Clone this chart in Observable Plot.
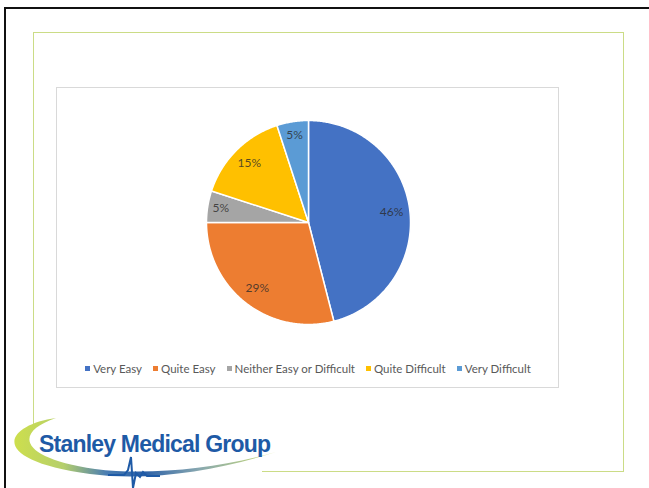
<!DOCTYPE html>
<html>
<head>
<meta charset="utf-8">
<script src="https://cdn.jsdelivr.net/npm/d3@7"></script>
<script src="https://cdn.jsdelivr.net/npm/@observablehq/plot@0.6"></script>
<style>
  html, body { margin: 0; padding: 0; background: #fff; }
  body { width: 649px; height: 488px; position: relative; overflow: hidden; font-family: Lato, "Open Sans", sans-serif; }
  .abs { position: absolute; }
  #blackTop { left: 4px; top: 7px; width: 645px; height: 2px; background: #111; }
  #blackLeft { left: 4px; top: 7px; width: 2px; height: 481px; background: #111; }
  #frame { left: 33px; top: 32px; border: 1.5px solid #cbdc86; box-sizing: border-box; width: 591px; height: 440px; }
  #chartBox { left: 56px; top: 87px; width: 503px; height: 301px; border: 1px solid #d9d9d9; box-sizing: border-box; background: #fff; }
  #pie { left: 56px; top: 87px; }
  #legend { left: 62px; top: 359px; width: 503px; }
  .lg-swatches { justify-content: center !important; margin: 0 !important; min-height: 18px !important; font-family: Lato, sans-serif !important; font-size: 11.5px !important; color: #595959 !important; }
  .lg-swatch { margin-right: 11px !important; }
  .lg-swatch > svg { margin-right: 3px !important; }
  #logo { left: 0px; top: 0px; }
</style>
</head>
<body>
<div id="blackTop" class="abs"></div>
<div id="blackLeft" class="abs"></div>
<div id="frame" class="abs"></div>
<div id="chartBox" class="abs"></div>
<div id="pie" class="abs"></div>
<div id="legend" class="abs"></div>
<svg id="logo" class="abs" width="649" height="488" style="pointer-events:none">
  <defs>
    <linearGradient id="sw" x1="10" y1="0" x2="278" y2="0" gradientUnits="userSpaceOnUse">
      <stop offset="0" stop-color="#cfe04a"/>
      <stop offset="0.2" stop-color="#b5cf6c"/>
      <stop offset="0.36" stop-color="#4a7db2"/>
      <stop offset="0.5" stop-color="#2a5fa6"/>
      <stop offset="0.7" stop-color="#86a6b0"/>
      <stop offset="1" stop-color="#cfe070"/>
    </linearGradient>
  </defs>
  <rect x="8" y="424" width="254" height="64" fill="#fff"/>
  <path d="M 56 418 C 5 425, -15 460, 90 474 C 150 482, 220 470, 276 452 C 220 468, 150 476, 95 469 C 18 458, 14 432, 56 418 Z" fill="url(#sw)"/>
  <path d="M 108 475 L 124 475 L 128 470 L 131 457 L 133 488 L 136 473 L 140 477 L 143 472 L 147 476 L 160 476" fill="none" stroke="#1e5aa6" stroke-width="2"/>
  <text x="39" y="452" font-family="'Liberation Sans', Arial, sans-serif" font-weight="bold" font-size="23" letter-spacing="-0.8" fill="#1e5aa6">Stanley Medical Group</text>
</svg>
<script>
const categories = ["Very Easy", "Quite Easy", "Neither Easy or Difficult", "Quite Difficult", "Very Difficult"];
const values = [46, 29, 5, 15, 5];
const labels = ["46%", "29%", "5%", "15%", "5%"];
const colors = ["#4472C4", "#ED7D31", "#A5A5A5", "#FFC000", "#5B9BD5"];

const total = d3.sum(values);
const arcs = [];
const labelRows = [];
let acc = 0;
categories.forEach((cat, i) => {
  const a0 = acc / total * 2 * Math.PI;
  acc += values[i];
  const a1 = acc / total * 2 * Math.PI;
  const n = Math.max(2, Math.ceil((a1 - a0) / 0.01));
  arcs.push({cat, x: 0, y: 0});
  for (let k = 0; k <= n; k++) {
    const a = a0 + (a1 - a0) * k / n;
    arcs.push({cat, x: Math.sin(a), y: Math.cos(a)});
  }
  const am = (a0 + a1) / 2;
  const r = values[i] / total < 0.1 ? 0.87 : 0.82;
  labelRows.push({cat, label: labels[i], x: r * Math.sin(am), y: r * Math.cos(am)});
});

const W = 503, H = 270, cx = 252, cy = 135, R = 102;
const pie = Plot.plot({
  width: W, height: H,
  marginLeft: cx - R, marginRight: W - cx - R,
  marginTop: cy - R, marginBottom: H - cy - R,
  x: {domain: [-1, 1], axis: null},
  y: {domain: [-1, 1], axis: null},
  color: {domain: categories, range: colors},
  style: {background: "transparent", overflow: "visible"},
  marks: [
    Plot.line(arcs, {x: "x", y: "y", z: "cat", fill: "cat", stroke: "white", strokeWidth: 1.5, curve: "linear-closed"}),
    Plot.text(labelRows, {x: "x", y: "y", text: "label", fill: "#2a2a2a", fillOpacity: 0.8, fontSize: 12, fontFamily: "Lato, sans-serif"})
  ]
});
document.getElementById("pie").appendChild(pie);

const legend = Plot.legend({
  color: {domain: categories, range: colors},
  legend: "swatches",
  swatchSize: 5,
  className: "lg"
});
document.getElementById("legend").appendChild(legend);
</script>
</body>
</html>
